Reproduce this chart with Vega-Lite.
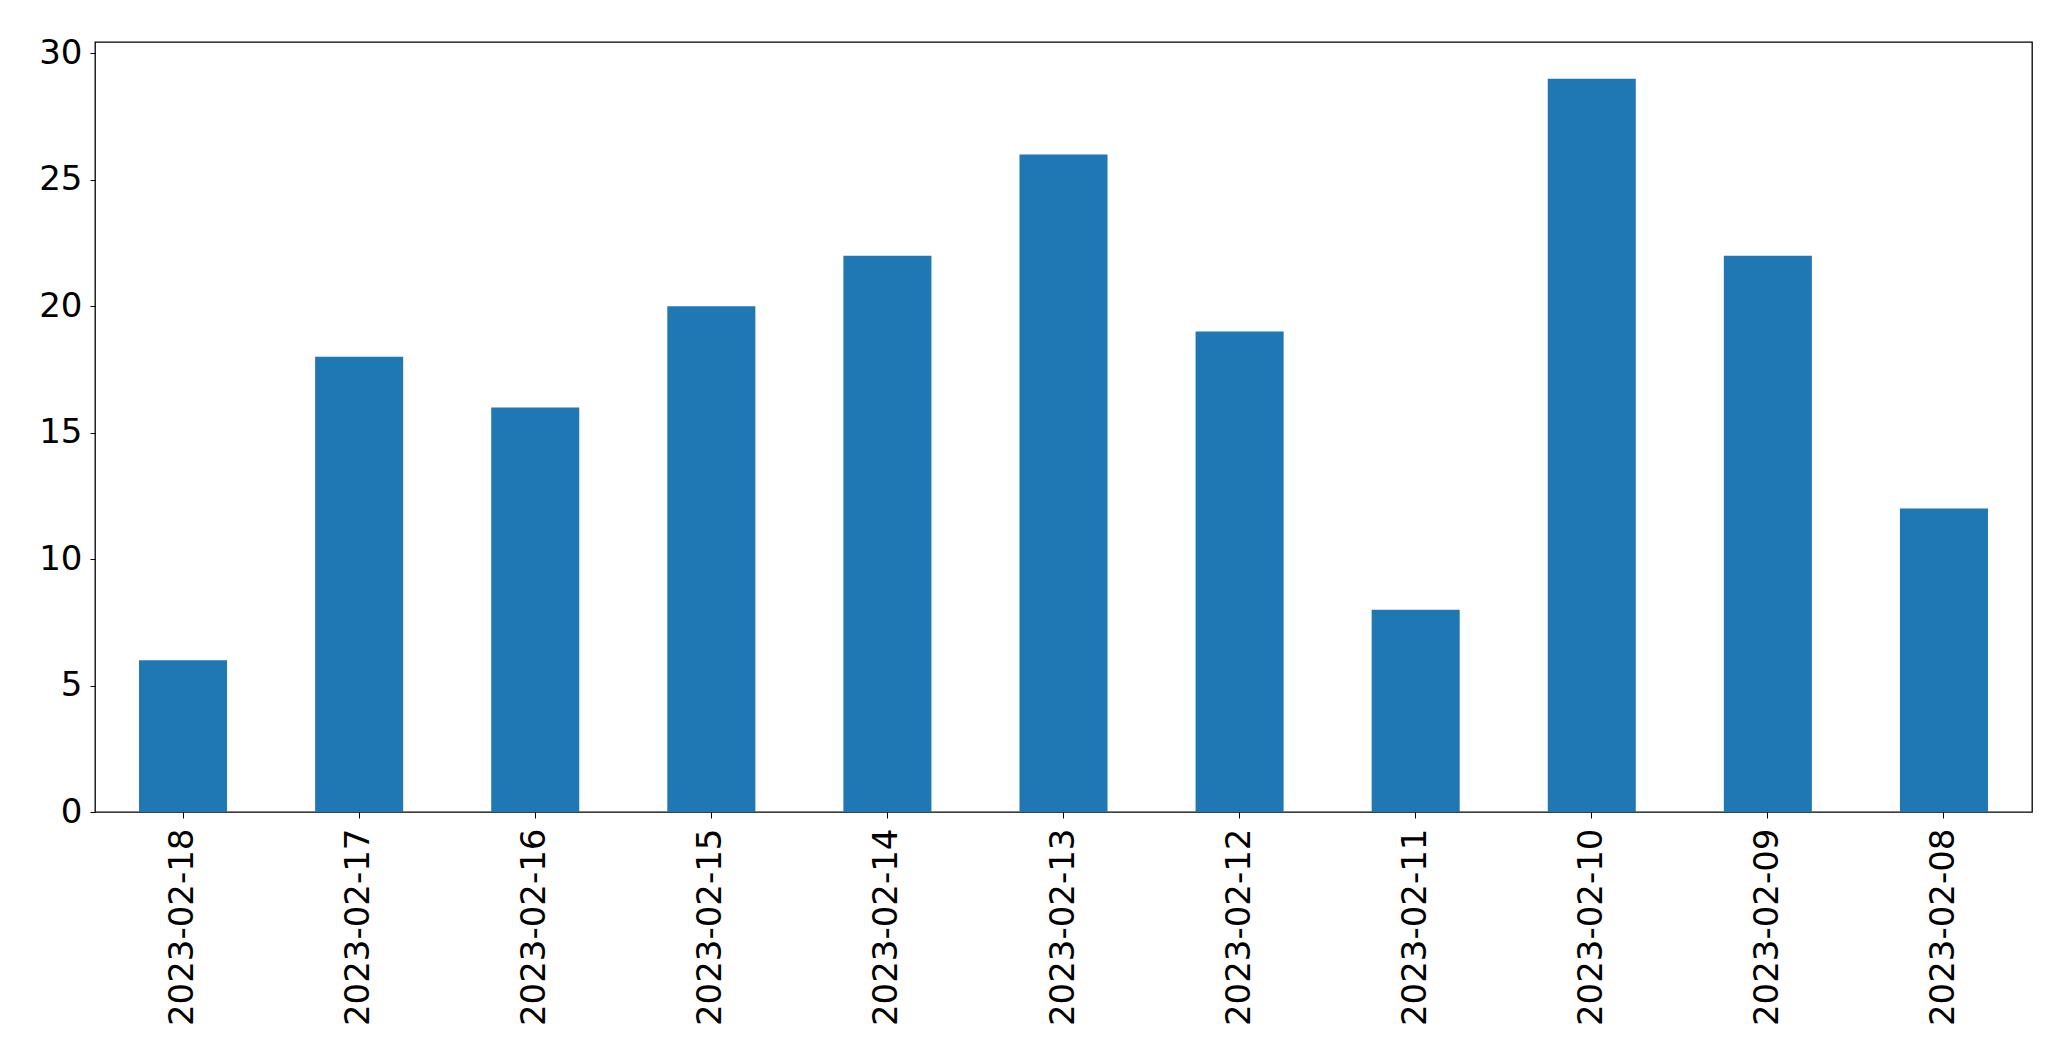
{
  "$schema": "https://vega.github.io/schema/vega-lite/v6.json",
  "width": 1937,
  "height": 770,
  "autosize": {"type": "none"},
  "padding": {"left": 95, "top": 42, "right": 39, "bottom": 252},
  "background": "white",
  "config": {
    "view": {"stroke": "black", "strokeWidth": 1.3},
    "font": "DejaVu Sans",
    "axis": {
      "labelFont": "DejaVu Sans",
      "labelFontSize": 34,
      "labelColor": "black",
      "labelLimit": 0,
      "domainColor": "black",
      "tickColor": "black",
      "grid": false,
      "title": null
    }
  },
  "data": {
    "values": [
      {"date": "2023-02-18", "count": 6},
      {"date": "2023-02-17", "count": 18},
      {"date": "2023-02-16", "count": 16},
      {"date": "2023-02-15", "count": 20},
      {"date": "2023-02-14", "count": 22},
      {"date": "2023-02-13", "count": 26},
      {"date": "2023-02-12", "count": 19},
      {"date": "2023-02-11", "count": 8},
      {"date": "2023-02-10", "count": 29},
      {"date": "2023-02-09", "count": 22},
      {"date": "2023-02-08", "count": 12}
    ]
  },
  "mark": {"type": "bar", "color": "#1f77b4"},
  "encoding": {
    "x": {
      "field": "date",
      "type": "nominal",
      "sort": null,
      "scale": {"paddingInner": 0.5, "paddingOuter": 0.25},
      "axis": {"labelAngle": -90, "tickSize": 6, "labelPadding": 10, "labelLimit": 0, "domain": false, "title": null}
    },
    "y": {
      "field": "count",
      "type": "quantitative",
      "scale": {"domain": [0, 30.45], "nice": false},
      "axis": {"values": [0, 5, 10, 15, 20, 25, 30], "tickSize": 5, "labelPadding": 8, "domain": false, "title": null}
    }
  }
}
